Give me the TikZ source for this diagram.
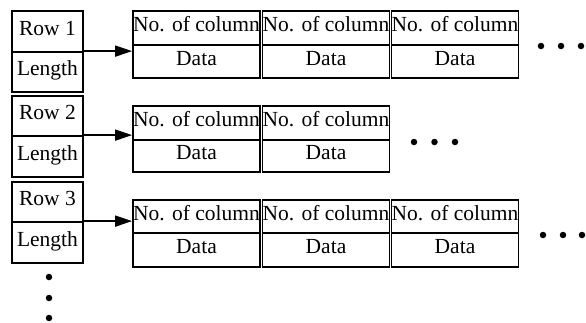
\documentclass[tikz,border=0pt]{standalone}
\usepackage{fontspec}
\setmainfont{Liberation Serif}
\usetikzlibrary{arrows.meta}
\begin{document}
\begin{tikzpicture}[x=1pt,y=-1pt,
  cell/.style={draw, line width=1.8pt, inner sep=0pt, anchor=center,
    font=\fontsize{21.5}{24}\selectfont, text height=14pt, text depth=7pt},
  rowcell/.style={cell, minimum width=71pt},
  reccell/.style={cell, minimum width=127pt},
  link/.style={line width=1.6pt, -{Triangle[length=17pt,width=11pt]}},
  dot/.style={circle, fill, inner sep=0pt, minimum size=6.5pt}]
\useasboundingbox (0,0) rectangle (586,322);
% row boxes
\node[rowcell, minimum height=41pt] (r1a) at (47.5,31.5) {Row 1};
\node[rowcell, minimum height=40pt] (r1b) at (47.5,72) {Length};
\node[rowcell, minimum height=40pt] (r2a) at (47.5,116) {Row 2};
\node[rowcell, minimum height=41pt] (r2b) at (47.5,156.5) {Length};
\node[rowcell, minimum height=40pt] (r3a) at (47.5,202) {Row 3};
\node[rowcell, minimum height=41pt] (r3b) at (47.5,242.5) {Length};
% records row 1
\foreach \x/\n in {196.5/1,326/2,455/3}{
  \node[reccell, minimum height=34pt] (a1\n) at (\x,28) {No. of column};
  \node[reccell, minimum height=33pt] (b1\n) at (\x,61.5) {Data};
}
% records row 2
\foreach \x/\n in {196.5/1,326/2}{
  \node[reccell, minimum height=34pt] (a2\n) at (\x,123) {No. of column};
  \node[reccell, minimum height=32pt] (b2\n) at (\x,156) {Data};
}
% records row 3
\foreach \x/\n in {196.5/1,326/2,455/3}{
  \node[reccell, minimum height=33pt] (a3\n) at (\x,216.5) {No. of column};
  \node[reccell, minimum height=34pt] (b3\n) at (\x,250) {Data};
}
% arrows
\draw[link] (r1b.north east) -- (r1b.north east -| b11.west);
\draw[link] (r2b.north east) -- (r2b.north east -| a21.west);
\draw[link] (r3b.north east) -- (r3b.north east -| a31.west);
% ellipses
\node[dot] (d11) at (541,46) {};
\node[dot] (d12) at (561,46) {};
\node[dot] (d13) at (581,46) {};
\node[dot] (d21) at (414,142) {};
\node[dot] (d22) at (434.5,142) {};
\node[dot] (d23) at (455,142) {};
\node[dot] (d31) at (543,235) {};
\node[dot] (d32) at (563,235) {};
\node[dot] (d33) at (582,235) {};
\node[dot] (v1) at (49,277) {};
\node[dot] (v2) at (49,298) {};
\node[dot] (v3) at (49,318) {};
\end{tikzpicture}
\end{document}
